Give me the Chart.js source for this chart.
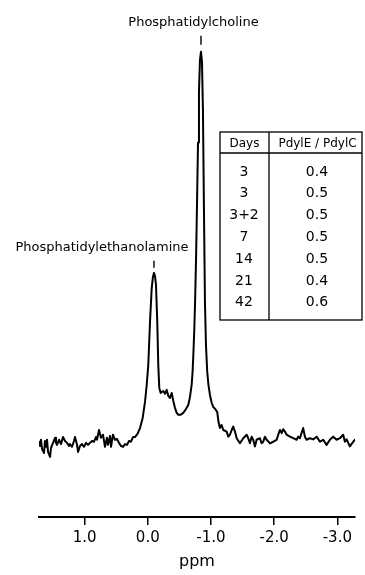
<!DOCTYPE html>
<html>
<head>
<meta charset="utf-8">
<script src="https://cdn.jsdelivr.net/npm/chart.js@4"></script>
<style>
  html, body { margin: 0; padding: 0; background: #fff; }
  #wrap { width: 365px; height: 575px; position: relative; }
</style>
</head>
<body>
<div id="wrap"><canvas id="c" width="365" height="575"></canvas></div>
<script>
// Chemical shift (ppm) of each sampled point of the 31P NMR trace
const ppm = [
  1.722, 1.706, 1.690, 1.674, 1.642, 1.627, 1.611, 1.595, 1.579, 1.547,
  1.532, 1.500, 1.468, 1.453, 1.437, 1.405, 1.373, 1.342, 1.310, 1.278,
  1.247, 1.231, 1.199, 1.168, 1.152, 1.120, 1.104, 1.073, 1.041, 1.009,
  0.978, 0.946, 0.915, 0.883, 0.851, 0.820, 0.804, 0.772, 0.741, 0.709,
  0.677, 0.646, 0.630, 0.598, 0.582, 0.551, 0.519, 0.487, 0.456, 0.424,
  0.392, 0.361, 0.329, 0.297, 0.266, 0.234,
  0.203, 0.163, 0.123, 0.081, 0.044, 0.017, -0.008, -0.035, -0.062, -0.082,
  -0.098, -0.114, -0.130, -0.150, -0.166, -0.182, -0.204,
  -0.225, -0.245, -0.272, -0.299, -0.324, -0.351, -0.378, -0.403, -0.430, -0.457,
  -0.483, -0.517, -0.562, -0.604, -0.641, -0.668, -0.695, -0.710, -0.722, -0.736,
  -0.750, -0.765, -0.780, -0.795, -0.810, -0.826, -0.842, -0.858, -0.873, -0.889, -0.905,
  -0.921, -0.941, -0.960, -0.984, -1.011, -1.036, -1.068, -1.100, -1.119, -1.142,
  -1.169, -1.195, -1.248,
  -1.274, -1.301, -1.328, -1.353, -1.380, -1.407, -1.459, -1.511, -1.565, -1.590,
  -1.617, -1.644, -1.669, -1.696, -1.723, -1.775, -1.802, -1.828, -1.854, -1.881,
  -1.934, -1.986, -2.040, -2.065, -2.092, -2.119, -2.144, -2.171, -2.198, -2.250,
  -2.302, -2.356, -2.381, -2.408, -2.460, -2.487, -2.514, -2.566, -2.619, -2.672,
  -2.725, -2.777, -2.830, -2.883, -2.935, -2.989, -3.041, -3.093, -3.120, -3.147,
  -3.199, -3.252, -3.280
];
// Signal intensity (arbitrary units, PdylC peak = 100)
const intensity = [
  0.3, -0.8, 0.8, -1.5, -2.6, 0.5, -1.0, 0.8, -2.3, -3.6,
  -1.3, 0.0, 1.3, 0.0, -0.5, 0.8, -0.3, 1.5, 0.5, 0.0,
  -0.8, -0.3, -1.0, 0.5, 1.5, -0.5, -2.3, -0.8, -0.3, -1.0,
  0.0, -0.5, 0.0, 0.5, 0.3, 1.5, 0.8, 3.3, 1.3, 2.1,
  -1.0, 1.3, -0.5, 1.8, -1.0, 2.1, 0.8, 1.0, 0.0, -0.8,
  -1.0, -0.3, -0.5, 0.5, 0.3, 1.5,
  1.5, 2.3, 3.8, 6.4, 10.5, 14.9, 20.0, 31.0, 39.7, 42.6,
  43.6, 42.8, 40.5, 31.0, 20.0, 14.1, 12.8,
  13.1, 13.3, 12.6, 13.6, 12.1, 11.5, 12.8, 10.8, 9.0, 7.7,
  7.2, 7.2, 7.7, 8.7, 9.7, 11.8, 15.0, 18.5, 23.0, 29.0,
  37.0, 48.0, 62.0, 77.0, 90.0, 98.2, 100.3, 97.7, 85.4, 60.0, 36.0,
  25.1, 18.2, 14.9, 12.3, 10.3, 9.2, 8.7, 7.9, 5.4, 3.8,
  4.6, 3.3, 2.9,
  1.6, 2.1, 3.3, 4.2, 2.9, 1.2, -0.1, 1.2, 2.1, 1.2,
  -0.1, 1.6, 0.8, -0.9, 0.8, 1.2, -0.1, 0.3, 1.6, 0.8,
  -0.1, 0.3, 0.8, 2.1, 3.3, 2.5, 3.5, 2.9, 2.1, 1.6,
  1.2, 0.8, 1.6, 1.2, 3.8, 1.6, 0.8, 1.2, 0.9, 1.6,
  0.3, 0.8, -0.5, 0.8, 1.6, 0.8, 1.2, 2.1, 0.3, 0.9,
  -0.9, 0.3, 0.8
];
// x-axis tick labels (ppm)
const tickValues = [1.0, 0.0, -1.0, -2.0, -3.0];
// Peak assignments
const peakNames = ['Phosphatidylcholine', 'Phosphatidylethanolamine'];
const peakPpm = [-0.842, -0.098];
const peakHeight = [100.3, 43.6];
// Inset table
const tableHeader = ['Days', 'PdylE / PdylC'];
const days = ['3', '3', '3+2', '7', '14', '21', '42'];
const ratios = ['0.4', '0.5', '0.5', '0.5', '0.5', '0.4', '0.6'];

const FONT = "'DejaVu Sans', sans-serif";
Chart.defaults.font.family = FONT;
Chart.defaults.color = '#000';

const annotations = {
  id: 'annotations',
  afterDraw(chart) {
    const ctx = chart.ctx;
    const xs = chart.scales.x, ys = chart.scales.y;
    ctx.save();
    ctx.fillStyle = '#000';
    ctx.strokeStyle = '#000';
    ctx.lineWidth = 1.4;
    ctx.font = '13px ' + FONT;
    ctx.textBaseline = 'alphabetic';
    ctx.textAlign = 'center';
    // peak labels
    const cfg = [
      { dx: -7.5, base: 26, t0: 16, t1: 7 },
      { dx: -52, base: 22, t0: 12, t1: 5 }
    ];
    peakNames.forEach((name, i) => {
      const px = xs.getPixelForValue(peakPpm[i]);
      const py = ys.getPixelForValue(peakHeight[i]);
      const c = cfg[i];
      ctx.fillText(name, px + c.dx, py - c.base);
      ctx.beginPath();
      ctx.moveTo(px, py - c.t0);
      ctx.lineTo(px, py - c.t1);
      ctx.stroke();
    });
    // inset table
    const L = 220, T = 132, R = 362, B = 320, H = 153, D = 269;
    ctx.lineWidth = 1.3;
    ctx.strokeRect(L, T, R - L, B - T);
    ctx.beginPath();
    ctx.moveTo(L, H); ctx.lineTo(R, H);
    ctx.moveTo(D, T); ctx.lineTo(D, B);
    ctx.stroke();
    ctx.textBaseline = 'middle';
    ctx.font = '12px ' + FONT;
    ctx.fillText(tableHeader[0], (L + D) / 2, 143.5);
    ctx.fillText(tableHeader[1], (D + R) / 2 + 2, 143.5);
    ctx.font = '14px ' + FONT;
    const rowTop = 172, rowStep = 21.8;
    days.forEach((d, i) => {
      const y = rowTop + i * rowStep;
      ctx.fillText(d, 244, y);
      ctx.fillText(ratios[i], 317, y);
    });
    ctx.restore();
  }
};

new Chart(document.getElementById('c'), {
  type: 'scatter',
  data: {
    datasets: [{
      data: ppm.map((x, i) => ({ x: x, y: intensity[i] })),
      showLine: true,
      borderColor: '#000',
      borderWidth: 2,
      borderJoinStyle: 'round',
      borderCapStyle: 'round',
      pointRadius: 0,
      tension: 0
    }]
  },
  options: {
    responsive: false,
    devicePixelRatio: 1,
    animation: false,
    events: [],
    layout: { padding: { left: 39, right: 10, top: 40, bottom: 4 } },
    plugins: { legend: { display: false }, tooltip: { enabled: false } },
    scales: {
      x: {
        type: 'linear',
        reverse: true,
        min: -3.28,
        max: 1.722,
        afterBuildTicks: (s) => { s.ticks = tickValues.map(v => ({ value: v })); },
        ticks: {
          callback: (v) => Number(v).toFixed(1),
          font: { size: 15 },
          color: '#000',
          padding: 4,
          maxRotation: 0,
          autoSkip: false
        },
        grid: { drawOnChartArea: false, drawTicks: true, tickLength: 8, color: '#000', lineWidth: 1.5 },
        border: { display: true, color: '#000', width: 2 },
        title: { display: true, text: 'ppm', font: { size: 16 }, color: '#000', padding: { top: 0.8, bottom: 0 } }
      },
      y: {
        display: false,
        min: -19.0,
        max: 103.3
      }
    }
  },
  plugins: [annotations]
});
</script>
</body>
</html>
